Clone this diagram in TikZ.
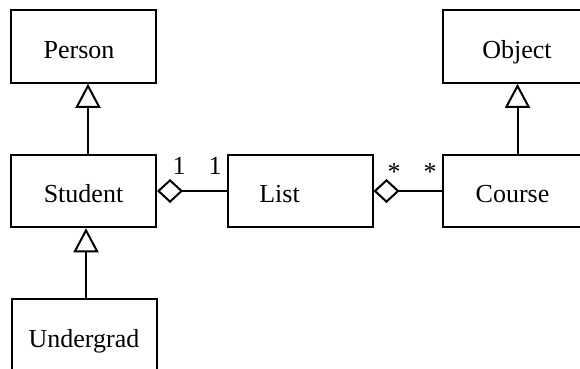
\documentclass[tikz,border=0pt]{standalone}
\usepackage{fontspec}
\setmainfont{Liberation Serif}
\usetikzlibrary{arrows.meta}
\begin{document}
\begin{tikzpicture}[x=1pt,y=-1pt,
  line width=2pt,
  classbox/.style={draw, rectangle, minimum width=145pt, minimum height=72.5pt,
    inner sep=0pt, text height=23.5pt, text depth=0pt,
    font=\fontsize{26}{30}\selectfont},
  inherits/.style={-{Triangle[open,length=24pt,width=25pt,line join=miter]}},
  aggregate/.style={{Diamond[open,length=26pt,width=24pt,line join=miter]}-},
  mult/.style={inner sep=0pt, anchor=base, font=\fontsize{26}{30}\selectfont}]
  \useasboundingbox (0,0) rectangle (580,368);
  % classes (a leading \hspace* nudges a name off the box centre)
  \node[classbox] (person)    at (83.5,46.5)  {\hspace*{-9pt}Person};
  \node[classbox] (student)   at (83.5,191)   {Student};
  \node[classbox] (undergrad) at (84,335.5)   {Undergrad};
  \node[classbox] (list)      at (300,191)    {\hspace*{-41pt}List};
  \node[classbox] (object)    at (515.5,46.5) {\hspace*{3pt}Object};
  \node[classbox] (course)    at (515.5,191)  {\hspace*{-6pt}Course};
  % generalisations
  \draw[inherits] ([xshift=4.5pt]student.north) -- ([xshift=4.5pt]person.south);
  \draw[inherits] ([xshift=2pt]undergrad.north) -- ([xshift=2pt]student.south -| undergrad.north);
  \draw[inherits] ([xshift=2pt]course.north) -- ([xshift=2pt]object.south);
  % aggregations
  \draw[aggregate] (student) -- (list);
  \draw[aggregate] (list) -- (course);
  % multiplicities
  \node[mult] (m1) at (179,174) {1};
  \node[mult] (m2) at (215,174) {1};
  \node[mult] (m3) at (394,180) {*};
  \node[mult] (m4) at (430,180) {*};
\end{tikzpicture}
\end{document}
